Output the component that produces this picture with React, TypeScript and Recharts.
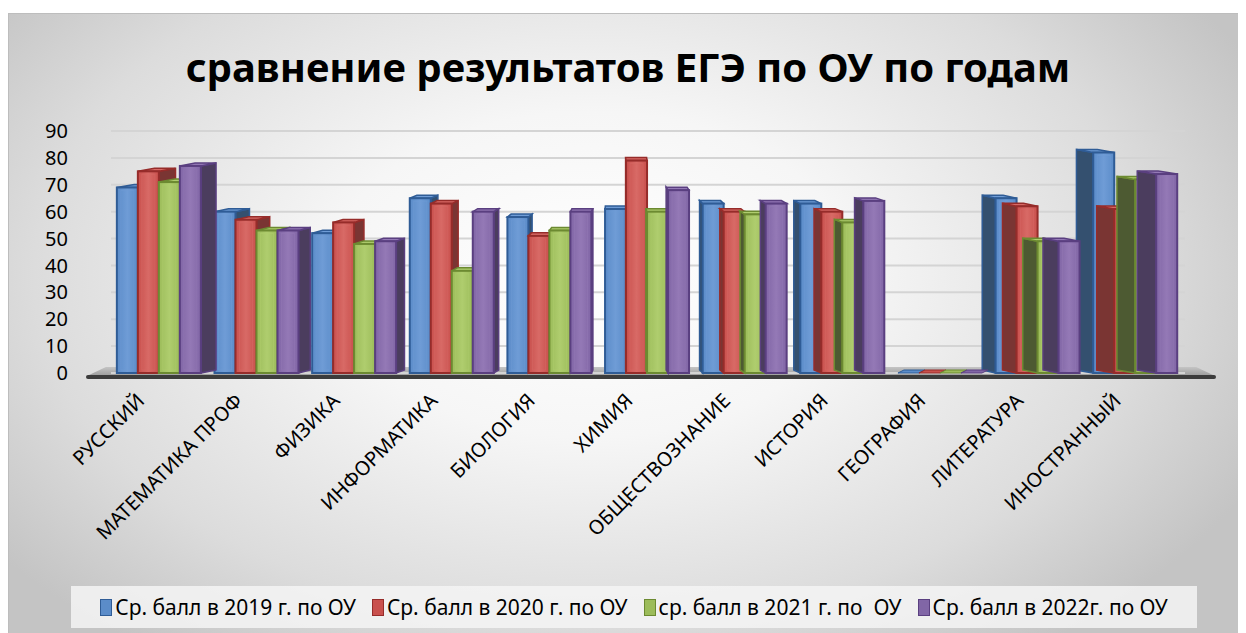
import React from "react";
import { BarChart, Bar, XAxis, YAxis, CartesianGrid } from "recharts";

const categories = [
  "РУССКИЙ",
  "МАТЕМАТИКА ПРОФ",
  "ФИЗИКА",
  "ИНФОРМАТИКА",
  "БИОЛОГИЯ",
  "ХИМИЯ",
  "ОБЩЕСТВОЗНАНИЕ",
  "ИСТОРИЯ",
  "ГЕОГРАФИЯ",
  "ЛИТЕРАТУРА",
  "ИНОСТРАННЫЙ",
];
const s2019 = [69, 60, 52, 65, 58, 61, 63, 63, 0, 65, 82];
const s2020 = [75, 57, 56, 63, 51, 79, 60, 60, 0, 62, 61];
const s2021 = [71, 53, 48, 38, 53, 60, 59, 56, 0, 49, 72];
const s2022 = [77, 53, 49, 60, 60, 68, 63, 64, 0, 49, 74];
const yTicks = [0, 10, 20, 30, 40, 50, 60, 70, 80, 90];
const seriesNames = [
  "Ср. балл в 2019 г. по ОУ",
  "Ср. балл в 2020 г. по ОУ",
  "ср. балл в 2021 г. по  ОУ",
  "Ср. балл в 2022г. по ОУ",
];

const data = categories.map((name, i) => ({
  name,
  a: s2019[i],
  b: s2020[i],
  c: s2021[i],
  d: s2022[i],
}));

const palette = [
  { fill: "#5b8cc9", light: "#6f9cd6", dark: "#2f5c96", side: "#34506f" },
  { fill: "#c9504d", light: "#d86a66", dark: "#962c2a", side: "#7a3533" },
  { fill: "#9cbc5a", light: "#afcd6e", dark: "#6c8a31", side: "#4d5a32" },
  { fill: "#8166a6", light: "#9479b6", dark: "#5a3f80", side: "#4b3d5e" },
];

const W = 1238;
const H = 620;
const CX = 615;

const makeShape = (idx: number) => (props: any) => {
  const { x, y, width, height } = props;
  const p = palette[idx];
  const h = Math.max(height || 0, 0);
  if (h < 1) {
    return (
      <g>
        <polygon
          points={`${x},${y} ${x + width},${y} ${x + width + 6},${y - 3} ${x + 6},${y - 3}`}
          fill={p.fill}
          stroke={p.dark}
          strokeWidth={1}
        />
      </g>
    );
  }
  const cx = x + width / 2;
  const dx = (CX - cx) * 0.035;
  const dy = -3;
  let side;
  if (dx > 0) {
    side = `${x + width},${y} ${x + width + dx},${y + dy} ${x + width + dx},${y + h + dy} ${x + width},${y + h}`;
  } else {
    side = `${x},${y} ${x + dx},${y + dy} ${x + dx},${y + h + dy} ${x},${y + h}`;
  }
  const top = `${x},${y} ${x + width},${y} ${x + width + dx},${y + dy} ${x + dx},${y + dy}`;
  return (
    <g>
      <polygon points={side} fill={p.side} stroke={p.dark} strokeWidth={1.5} />
      <polygon points={top} fill={p.light} stroke={p.dark} strokeWidth={1.5} />
      <rect x={x} y={y} width={width} height={h} fill={`url(#grad${idx})`} stroke={p.dark} strokeWidth={2} />
      <rect x={x + 4} y={y + 3} width={Math.max(width - 8, 0)} height={Math.max(h - 6, 0)} fill="none" stroke={p.light} strokeOpacity={0.5} strokeWidth={1} />
    </g>
  );
};

const XTick = (props: any) => {
  const { x, y, payload } = props;
  const tx = x - 14;
  const ty = y + 21;
  return (
    <text
      x={tx}
      y={ty}
      transform={`rotate(-45, ${tx}, ${ty})`}
      textAnchor="end"
      fontSize={20}
      fill="#000"
      fontFamily="'Noto Sans', sans-serif"
    >
      {payload.value}
    </text>
  );
};

export default function App() {
  return (
    <div
      style={{
        position: "relative",
        width: W,
        height: H,
        marginTop: 5,
        borderTop: "1px solid #bdbdbd",
        borderLeft: "1px solid #bdbdbd",
        background:
          "radial-gradient(ellipse 60% 75% at 47% 42%, #ffffff 0%, #f6f6f6 35%, #dcdcdc 75%, #c4c4c4 100%)",
        overflow: "hidden",
        fontFamily: "'Noto Sans', sans-serif",
      }}
    >
      <div
        style={{
          position: "absolute",
          top: 28,
          left: 0,
          width: W,
          textAlign: "center",
          fontSize: 40,
          fontWeight: 700,
          color: "#000",
          lineHeight: "50px",
        }}
      >
        сравнение результатов ЕГЭ по ОУ по годам
      </div>
      <div
        style={{
          position: "absolute",
          left: 80,
          top: 353,
          width: 1124,
          height: 8,
          background: "linear-gradient(#c4c4c4, #a0a0a0)",
          clipPath: "polygon(1.5% 0, 98.5% 0, 100% 100%, 0 100%)",
        }}
      />
      <div
        style={{
          position: "absolute",
          left: 77,
          top: 361,
          width: 1130,
          height: 4,
          background: "#3c3c3c",
          borderRadius: 2,
        }}
      />
      <div style={{ position: "absolute", left: 0, top: 0 }}>
        <BarChart
          width={W}
          height={H}
          data={data}
          margin={{ top: 117, right: 62, bottom: 0, left: 0 }}
          barCategoryGap="6%"
          barGap={0}
        >
          <defs>
            {palette.map((p, i) => (
              <linearGradient key={i} id={`grad${i}`} x1="0" y1="0" x2="1" y2="0">
                <stop offset="0%" stopColor={p.fill} />
                <stop offset="50%" stopColor={p.light} />
                <stop offset="100%" stopColor={p.fill} />
              </linearGradient>
            ))}
          </defs>
          <CartesianGrid vertical={false} stroke="#d4d4d4" strokeWidth={2} />
          <XAxis
            dataKey="name"
            interval={0}
            height={261}
            axisLine={false}
            tickLine={false}
            tick={<XTick />}
          />
          <YAxis
            domain={[0, 90]}
            ticks={yTicks}
            interval={0}
            width={102}
            axisLine={false}
            tickLine={false}
            tickMargin={37}
            tick={{ fontSize: 20, fill: "#000", fontFamily: "'Noto Sans', sans-serif" }}
          />
          <Bar dataKey="a" isAnimationActive={false} shape={makeShape(0)} />
          <Bar dataKey="b" isAnimationActive={false} shape={makeShape(1)} />
          <Bar dataKey="c" isAnimationActive={false} shape={makeShape(2)} />
          <Bar dataKey="d" isAnimationActive={false} shape={makeShape(3)} />
        </BarChart>
      </div>
      <div
        style={{
          position: "absolute",
          left: 62,
          top: 572,
          width: 1126,
          height: 42,
          background: "rgba(245,245,245,0.85)",
          display: "flex",
          alignItems: "center",
          justifyContent: "center",
          gap: 16,
          fontSize: 21,
          color: "#000",
        }}
      >
        {seriesNames.map((n, i) => (
          <div key={i} style={{ display: "flex", alignItems: "center", gap: 3 }}>
            <span
              style={{
                display: "inline-block",
                width: 10,
                height: 15,
                background: palette[i].fill,
                border: `1.5px solid ${palette[i].dark}`,
              }}
            />
            <span style={{ whiteSpace: "pre" }}>{n}</span>
          </div>
        ))}
      </div>
    </div>
  );
}
